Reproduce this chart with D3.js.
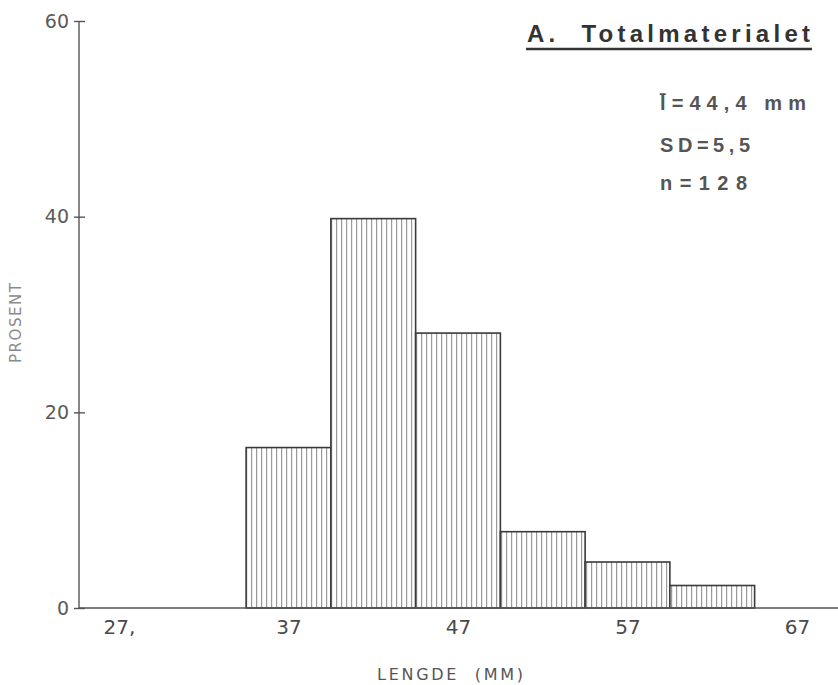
<!DOCTYPE html>
<html>
<head>
<meta charset="utf-8">
<script src="https://cdn.jsdelivr.net/npm/d3@7"></script>
<style>
  html, body { margin: 0; padding: 0; background: #ffffff; }
  svg { display: block; }
</style>
</head>
<body>
<svg id="chart" width="838" height="685"></svg>
<script>
// ---- data ----
const binStarts = [29.5, 34.5, 39.5, 44.5, 49.5, 54.5, 59.5];
const binWidth = 5;
const percentValues = [0, 16.4, 39.8, 28.1, 7.8, 4.7, 2.3];
const xTickValues = [27, 37, 47, 57, 67];
const xTickLabels = ["27,", "37", "47", "57", "67"];
const yTickValues = [0, 20, 40, 60];
const titleText = "A.  Totalmaterialet";
const statLines = ["l\u0304=44,4 mm", "SD=5,5", "n=128"];
const xAxisTitle = "LENGDE  (MM)";
const yAxisTitle = "PROSENT";

// ---- layout ----
const svg = d3.select("#chart");
const W = 838, H = 685;
const axisX = 79, baseY = 608, topY = 21;

const x = d3.scaleLinear().domain([27, 67]).range([119, 797]);
const y = d3.scaleLinear().domain([0, 60]).range([baseY, topY]);

// hatch pattern
const defs = svg.append("defs");
const pat = defs.append("pattern")
  .attr("id", "hatch")
  .attr("patternUnits", "userSpaceOnUse")
  .attr("x", x(binStarts[1]))
  .attr("width", 5).attr("height", 10);
pat.append("rect").attr("width", 5).attr("height", 10).attr("fill", "#ffffff");
pat.append("line").attr("x1", 0.5).attr("x2", 0.5).attr("y1", 0).attr("y2", 10)
  .attr("stroke", "#8a8a8a").attr("stroke-width", 1.1);

// bars
const bins = binStarts.map((s, i) => ({ start: s, value: percentValues[i] }));
svg.append("g").selectAll("rect").data(bins).join("rect")
  .attr("x", d => x(d.start))
  .attr("y", d => y(d.value))
  .attr("width", d => x(d.start + binWidth) - x(d.start))
  .attr("height", d => y(0) - y(d.value))
  .attr("fill", "url(#hatch)")
  .attr("stroke", "#3a3a3a")
  .attr("stroke-width", 1.6);

// x axis
const xAxis = d3.axisBottom(x).tickValues(xTickValues)
  .tickFormat((d, i) => xTickLabels[i]).tickSize(0).tickPadding(12);
const gx = svg.append("g").attr("transform", `translate(0,${baseY})`).call(xAxis);
gx.select(".domain").remove();
gx.selectAll("text")
  .attr("font-family", "DejaVu Sans, sans-serif")
  .attr("font-size", 20)
  .attr("fill", "#4a4a4a");
svg.append("line")
  .attr("x1", axisX).attr("x2", W).attr("y1", baseY).attr("y2", baseY)
  .attr("stroke", "#555").attr("stroke-width", 1.4);

// y axis
const yAxis = d3.axisLeft(y).tickValues(yTickValues).tickSize(6).tickPadding(4);
const gy = svg.append("g").attr("transform", `translate(${axisX},0)`).call(yAxis);
gy.select(".domain").remove();
gy.selectAll(".tick line").attr("x1", -5).attr("x2", 6)
  .attr("stroke", "#555").attr("stroke-width", 1.4);
gy.selectAll("text")
  .attr("font-family", "DejaVu Sans, sans-serif")
  .attr("font-size", 19)
  .attr("fill", "#5a5a5a");
svg.append("line")
  .attr("x1", axisX).attr("x2", axisX).attr("y1", y(60)).attr("y2", baseY)
  .attr("stroke", "#555").attr("stroke-width", 1.4);

// axis titles
svg.append("text")
  .attr("x", 450).attr("y", 680)
  .attr("text-anchor", "middle")
  .attr("font-family", "DejaVu Sans, sans-serif")
  .attr("font-size", 16)
  .attr("fill", "#555")
  .attr("textLength", 146).attr("lengthAdjust", "spacing")
  .style("white-space", "pre")
  .text(xAxisTitle);

svg.append("text")
  .attr("transform", "translate(21,323) rotate(-90)")
  .attr("text-anchor", "middle")
  .attr("font-family", "DejaVu Sans, sans-serif")
  .attr("font-size", 15)
  .attr("fill", "#8a8a8a")
  .attr("textLength", 80).attr("lengthAdjust", "spacing")
  .text(yAxisTitle);

// title with underline
svg.append("text")
  .attr("x", 527).attr("y", 42)
  .attr("font-family", "Liberation Sans, Arial, sans-serif")
  .attr("font-weight", "bold")
  .attr("font-size", 24)
  .attr("fill", "#333")
  .attr("textLength", 283).attr("lengthAdjust", "spacing")
  .style("white-space", "pre")
  .text(titleText);
svg.append("line")
  .attr("x1", 526).attr("x2", 812).attr("y1", 49).attr("y2", 49)
  .attr("stroke", "#333").attr("stroke-width", 2.5);

// statistics
const statBaselines = [110, 152, 190];
const statLengths = [146, 90, 87];
svg.append("g").selectAll("text").data(statLines).join("text")
  .attr("x", 660)
  .attr("y", (d, i) => statBaselines[i])
  .attr("font-family", "Liberation Sans, Arial, sans-serif")
  .attr("font-weight", "bold")
  .attr("font-size", 20)
  .attr("fill", "#555")
  .attr("textLength", (d, i) => statLengths[i]).attr("lengthAdjust", "spacing")
  .text(d => d);
</script>
</body>
</html>
